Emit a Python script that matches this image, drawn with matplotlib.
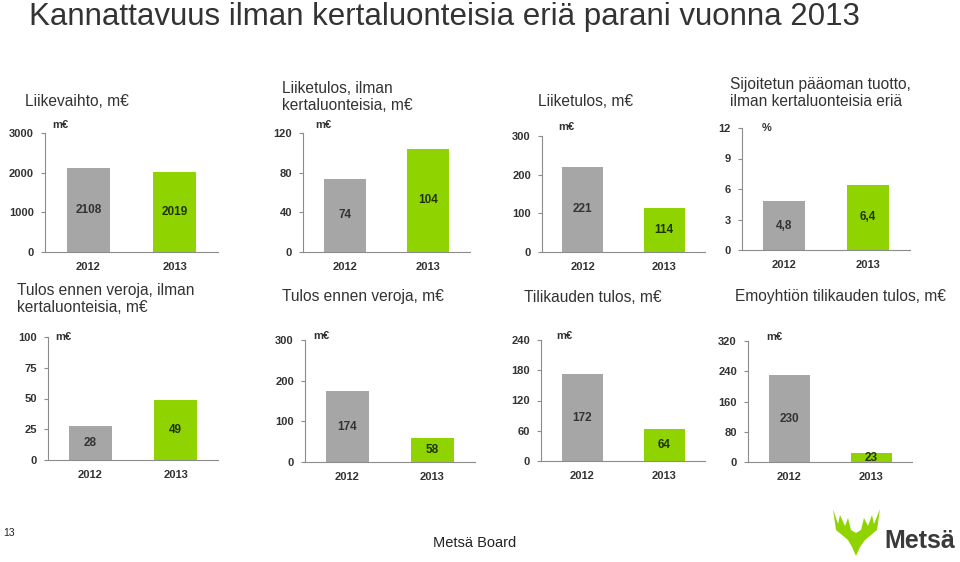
import matplotlib.pyplot as plt
from matplotlib.patches import Polygon

plt.rcParams['font.family'] = ['Liberation Sans', 'DejaVu Sans']

W, H = 960, 562

years = ['2012', '2013']

liikevaihto = [2108, 2019]
liiketulos_ilman = [74, 104]
liiketulos = [221, 114]
roce_ilman = [4.8, 6.4]
tulos_ennen_ilman = [28, 49]
tulos_ennen = [174, 58]
tilikauden_tulos = [172, 64]
emoyhtio_tulos = [230, 23]

titles = [
    'Liikevaihto, m€',
    'Liiketulos, ilman\nkertaluonteisia, m€',
    'Liiketulos, m€',
    'Sijoitetun pääoman tuotto,\nilman kertaluonteisia eriä',
    'Tulos ennen veroja, ilman\nkertaluonteisia, m€',
    'Tulos ennen veroja, m€',
    'Tilikauden tulos, m€',
    'Emoyhtiön tilikauden tulos, m€',
]
units = ['m€', 'm€', 'm€', '%', 'm€', 'm€', 'm€', 'm€']
series = [liikevaihto, liiketulos_ilman, liiketulos, roce_ilman,
          tulos_ennen_ilman, tulos_ennen, tilikauden_tulos, emoyhtio_tulos]
yticks = [
    [0, 1000, 2000, 3000],
    [0, 40, 80, 120],
    [0, 100, 200, 300],
    [0, 3, 6, 9, 12],
    [0, 25, 50, 75, 100],
    [0, 100, 200, 300],
    [0, 60, 120, 180, 240],
    [0, 80, 160, 240, 320],
]

# layout in pixels: axes (left, top, right, bottom), title (x, y), unit (x, y)
ax_px = [(45, 133, 218, 252), (303, 133, 470, 252), (542, 136, 705, 252), (742, 128, 910, 250),
         (48, 337, 218, 460), (305, 340, 475, 462), (541, 340, 705, 461), (748, 341, 912, 462)]
title_px = [(25, 101), (282, 97), (538, 101), (730, 93),
            (17, 299), (282, 297), (524, 298), (735, 297)]
unit_px = [(52, 125), (315, 125), (558, 127), (762, 128),
           (55, 337), (313, 336), (556, 336), (766, 337)]

gray, green = '#a6a6a6', '#8fd400'
txt = '#333333'

fig = plt.figure(figsize=(W / 100, H / 100), dpi=100)

fig.text(29 / W, 1 - 17 / H, 'Kannattavuus ilman kertaluonteisia eriä parani vuonna 2013',
         fontsize=22.5, color=txt, va='center', ha='left')

for i, vals in enumerate(series):
    l, t, r, b = ax_px[i]
    ax = fig.add_axes([l / W, 1 - b / H, (r - l) / W, (b - t) / H])
    ax.bar([0, 1], vals, width=0.5, color=[gray, green])
    ax.set_xlim(-0.5, 1.5)
    ax.set_ylim(0, yticks[i][-1])
    ax.set_yticks(yticks[i])
    ax.set_xticks([0, 1])
    ax.set_xticklabels(years)
    for s in ['top', 'right']:
        ax.spines[s].set_visible(False)
    for s in ['left', 'bottom']:
        ax.spines[s].set_color('#8c8c8c')
        ax.spines[s].set_linewidth(0.8)
    ax.tick_params(axis='y', length=3, color='#8c8c8c', width=0.8, pad=5,
                   labelsize=8, labelcolor=txt)
    ax.tick_params(axis='x', length=0, pad=7, labelsize=8, labelcolor=txt)
    for lab in ax.get_xticklabels() + ax.get_yticklabels():
        lab.set_fontweight('bold')
    ax.patch.set_alpha(0)

    for j, v in enumerate(vals):
        s = str(v).replace('.', ',')
        ax.text(j, v / 2, s, ha='center', va='center', fontsize=8.5, fontweight='bold',
                color=txt if j == 0 else '#1f3300')

    tx, ty = title_px[i]
    fig.text(tx / W, 1 - ty / H, titles[i], fontsize=11.2, color=txt,
             ha='left', va='center', linespacing=1.1)
    ux, uy = unit_px[i]
    fig.text(ux / W, 1 - uy / H, units[i], fontsize=8, fontweight='bold', color=txt,
             ha='left', va='center')

# footer
fig.text(3 / W, 1 - 533 / H, '13', fontsize=7.5, color='#222222', va='center')
fig.text(475 / W, 1 - 543 / H, 'Metsä Board', fontsize=10.5, color='#222222',
         ha='center', va='center')

logo = [(833, 509), (838, 524), (840, 515), (845, 526), (848, 518), (851, 530),
        (856, 533), (861, 530), (864, 518), (868, 526), (872, 515), (874, 524),
        (880, 509), (877, 530), (865, 540), (860, 547), (856, 556), (852, 547),
        (848, 540), (836, 530)]
fig.patches.append(Polygon([(x / W, 1 - y / H) for x, y in logo], closed=True,
                           facecolor='#8fd400', edgecolor='none',
                           transform=fig.transFigure, figure=fig))
fig.text(884 / W, 1 - 541 / H, 'Metsä', fontsize=18, fontweight='bold',
         color='#3a3a3a', ha='left', va='center')

fig.savefig('out.png', dpi=100)
